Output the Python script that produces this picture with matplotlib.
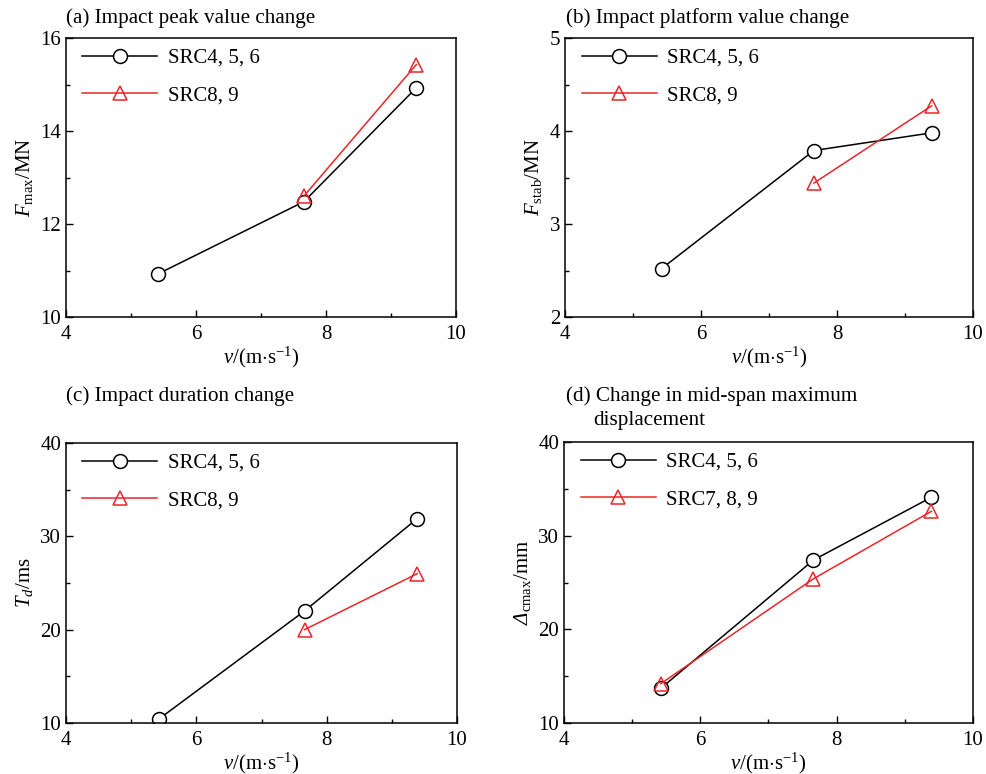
import matplotlib
matplotlib.use("Agg")
import matplotlib.pyplot as plt
from matplotlib.ticker import MultipleLocator

plt.rcParams['font.family'] = ['Liberation Serif', 'DejaVu Serif']
plt.rcParams['mathtext.fontset'] = 'custom'
plt.rcParams['mathtext.rm'] = 'Liberation Serif'
plt.rcParams['mathtext.it'] = 'Liberation Serif:italic'
plt.rcParams['mathtext.bf'] = 'Liberation Serif:bold'
# sf slot used for italic capital Greek (mathtext forces \mathit Greek capitals upright)
plt.rcParams['mathtext.sf'] = 'Liberation Serif:italic'

# impact velocity
v_black = [5.42, 7.66, 9.39]
v_red = [7.66, 9.39]
v_red_d = [5.42, 7.66, 9.39]

# (a) peak force, MN
fmax_456 = [10.93, 12.48, 14.93]
fmax_89 = [12.60, 15.43]
# (b) platform force, MN
fstab_456 = [2.52, 3.79, 3.98]
fstab_89 = [3.44, 4.27]
# (c) duration, ms
td_456 = [10.4, 22.0, 31.9]
td_89 = [20.0, 26.0]
# (d) mid-span max displacement, mm
dc_456 = [13.7, 27.4, 34.1]
dc_789 = [14.2, 25.4, 32.6]

W, H = 987, 774
fig = plt.figure(figsize=(W / 100, H / 100), dpi=100)


def make_ax(l, r, t, b):
    return fig.add_axes([l / W, 1 - b / H, (r - l) / W, (b - t) / H])


def style(ax, ylim, ymaj, ymin, ylabel):
    ax.set_xlim(4, 10)
    ax.set_ylim(*ylim)
    ax.xaxis.set_major_locator(MultipleLocator(2))
    ax.xaxis.set_minor_locator(MultipleLocator(1))
    ax.yaxis.set_major_locator(MultipleLocator(ymaj))
    ax.yaxis.set_minor_locator(MultipleLocator(ymin))
    ax.tick_params(which='both', direction='in', labelsize=15, width=1)
    ax.tick_params(which='major', length=5)
    ax.tick_params(which='minor', length=3)
    ax.tick_params(axis='x', pad=6)
    for s in ax.spines.values():
        s.set_linewidth(1.1)
    ax.set_xlabel(r'$v$/(m$\cdot$s$^{-1}$)', fontsize=15, labelpad=0)
    ax.set_ylabel(ylabel, fontsize=15, labelpad=4)


def draw(ax, xb, yb, xr, yr, lb, lr):
    ax.plot(xb, yb, color='black', lw=1.1, marker='o', ms=10,
            mfc='white', mec='black', mew=1.1, label=lb)
    ax.plot(xr, yr, color='#e8262a', lw=1.1, marker='^', ms=10,
            mfc='none', mec='#e8262a', mew=1.1, label=lr)
    ax.legend(loc='upper left', frameon=False, fontsize=15,
              handlelength=3.6, labelspacing=0.85, borderaxespad=0.1,
              handletextpad=0.5, bbox_to_anchor=(0.015, 1.0))


ax1 = make_ax(66, 456, 38, 317)
draw(ax1, v_black, fmax_456, v_red, fmax_89, 'SRC4, 5, 6', 'SRC8, 9')
style(ax1, (10, 16), 2, 1, r'$F_{\mathrm{max}}$/MN')

ax2 = make_ax(565, 973, 38, 317)
draw(ax2, v_black, fstab_456, v_red, fstab_89, 'SRC4, 5, 6', 'SRC8, 9')
style(ax2, (2, 5), 1, 0.5, r'$F_{\mathrm{stab}}$/MN')

ax3 = make_ax(66, 457, 443, 723)
draw(ax3, v_black, td_456, v_red, td_89, 'SRC4, 5, 6', 'SRC8, 9')
style(ax3, (10, 40), 10, 5, r'$T_{d}$/ms')

ax4 = make_ax(564, 973, 442, 723)
draw(ax4, v_black, dc_456, v_red_d, dc_789, 'SRC4, 5, 6', 'SRC7, 8, 9')
style(ax4, (10, 40), 10, 5, r'$\mathsf{Δ}_{\mathrm{cmax}}$/mm')

tfs = 15.2
fig.text(66 / W, 1 - 18 / H, '(a) Impact peak value change', fontsize=tfs, va='center', ha='left')
fig.text(566 / W, 1 - 18 / H, '(b) Impact platform value change', fontsize=tfs, va='center', ha='left')
fig.text(66 / W, 1 - 396 / H, '(c) Impact duration change', fontsize=tfs, va='center', ha='left')
fig.text(566 / W, 1 - 396 / H, '(d) Change in mid-span maximum', fontsize=tfs, va='center', ha='left')
fig.text(593 / W, 1 - 420 / H, 'displacement', fontsize=tfs, va='center', ha='left')

fig.savefig('out.png', dpi=100)
